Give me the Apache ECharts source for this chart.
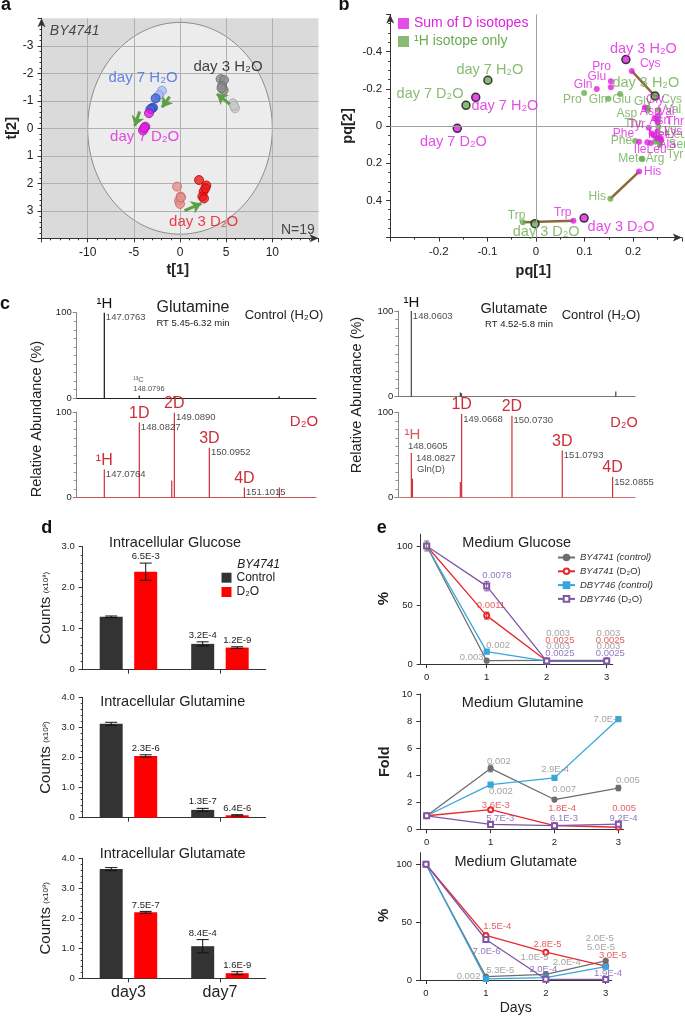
<!DOCTYPE html>
<html><head><meta charset="utf-8">
<script src="https://cdn.jsdelivr.net/npm/echarts@6/dist/echarts.min.js"></script>
<style>html,body{margin:0;padding:0;background:#fff}#c{width:685px;height:1018px}</style>
</head><body><div id="c"></div>
<script>
const FONT = '"Liberation Sans", Arial, Helvetica, sans-serif';

// ================= DATA =================
// Panel a: PCA scores (t[1], t[2])
const aDay7H2OFaint = [[-1.95,-1.37],[-2.27,-1.21]];
const aDay7H2O = [[-2.64,-1.09],[-2.92,-0.75],[-3.05,-0.73],[-3.21,-0.69]];
const aDay7D2O = [[-3.36,-0.55],[-3.75,-0.06],[-4.0,0.08],[-3.88,-0.01]];
const aDay3H2O = [[4.4,-1.79],[4.77,-1.76],[4.55,-1.54],[4.73,-1.39],[4.5,-1.46]];
const aDay3H2OFaint = [[5.74,-0.91],[5.96,-0.73],[5.85,-0.82]];
const aDay3D2OFaint = [[-0.32,2.12],[0.07,2.48],[-0.1,2.63],[0.0,2.75],[0.1,2.52]];
const aDay3D2O = [[2.06,1.88],[2.85,2.08],[2.56,2.3],[2.42,2.48],[2.6,2.55],[2.75,2.18]];
const aEllipse = [0, 0, 10, 3.85];            // centre t1, t2, half-axes
const aArrows = [[-1.12,-1.15,-1.95,-0.76],[-4.37,-0.61,-4.91,-0.08],[5.38,-0.88,4.0,-1.25],[0.5,2.99,2.31,2.73]];
const aLabels = [[-4.0,-1.85,'day 7 H₂O'],[5.2,-2.24,'day 3 H₂O'],[-3.83,0.3,'day 7 D₂O'],[2.56,3.39,'day 3 D₂O']];

// Panel b: scores & loadings (pq[1], pq[2])
const bScoreNames = ['day 3 H₂O','day 3 D₂O','day 7 H₂O','day 7 D₂O'];
const bScoreD = [[0.185,-0.357],[0.099,0.495],[-0.124,-0.154],[-0.162,0.0125]];
const bScoreH = [[0.245,-0.161],[-0.002,0.525],[-0.099,-0.246],[-0.144,-0.111]];
const bScoreLabD = [[0.221,-0.412],[0.175,0.541],[-0.064,-0.108],[-0.17,0.084]];
const bScoreLabH = [[0.226,-0.229],[0.021,0.568],[-0.095,-0.301],[-0.218,-0.17]];
const bAminoD = ['Cys','Pro','Glu','Gln','His','Trp','Phe','Ile','Leu','Gly','Asp','Val','Thr','Tyr','Lys','Met','Ala','Ser','Asn','Arg'];
const bLoadD = [[0.197,-0.296],[0.154,-0.241],[0.154,-0.208],[0.125,-0.199],[0.212,0.245],[0.077,0.509],[0.212,0.085],[0.229,0.088],[0.236,0.092],[0.224,-0.1],[0.245,-0.04],[0.252,-0.055],[0.25,-0.02],[0.232,0.01],[0.25,0.03],[0.248,0.066],[0.255,0.06],[0.242,0.05],[0.258,0.075],[0.238,0.04]];
const bAminoH = ['Pro','Gln','Glu','His','Trp','Phe','Met','Arg','Gly','Cys','Asp','Val','Thr','Tyr','Lys','Leu','Ile','Ala','Ser','Asn'];
const bLoadH = [[0.099,-0.177],[0.149,-0.147],[0.173,-0.172],[0.153,0.391],[-0.027,0.518],[0.204,0.08],[0.217,0.176],[0.219,0.178],[0.23,-0.098],[0.245,-0.16],[0.23,-0.085],[0.252,-0.086],[0.252,-0.032],[0.255,0.093],[0.252,0.004],[0.25,0.08],[0.245,0.085],[0.255,0.07],[0.25,0.06],[0.255,0.1]];
const bPairs = ['Cys','His','Trp'];
const bLabD = [[0.235,-0.333,'Cys'],[0.135,-0.319,'Pro'],[0.125,-0.265,'Glu'],[0.097,-0.22,'Gln'],[0.24,0.245,'His'],[0.055,0.466,'Trp'],[0.18,0.043,'Phe'],[0.235,0.129,'IleLeu'],[0.235,-0.077,'Asp'],[0.245,-0.14,'Gly'],[0.286,-0.023,'Thr'],[0.207,-0.005,'Tyr'],[0.282,0.03,'Lys'],[0.251,0.048,'Met'],[0.268,-0.075,'Val'],[0.255,-0.03,'Asn'],[0.27,0.1,'Ala']];
const bLabH = [[0.075,-0.143,'Pro'],[0.128,-0.143,'Gln'],[0.176,-0.143,'Glu'],[0.126,0.38,'His'],[-0.04,0.484,'Trp'],[0.176,0.081,'Phe'],[0.19,0.174,'Met'],[0.245,0.177,'Arg'],[0.22,-0.13,'Gly'],[0.279,-0.14,'Cys'],[0.187,-0.068,'Asp'],[0.282,-0.086,'Val'],[0.2,-0.014,'Thr'],[0.286,0.152,'Tyr'],[0.292,0.1,'Ser'],[0.29,0.048,'Leu'],[0.27,0.02,'Lys']];

// Panel c: mass spectra (m/z, relative abundance %)
const cGlnCtrlMz = [147.0763, 148.0796, 149.08, 152.10];
const cGlnCtrlAb = [100, 3, 2, 2];
const cGlnCtrlIso = ['¹H','','',''];
const cGlnCtrlTxt = ['147.0763','','',''];
const cGlnD2OMz = [147.0764, 148.0827, 149.015, 149.0890, 150.0952, 151.1015, 152.11];
const cGlnD2OAb = [33, 88, 20, 99.5, 58.5, 12, 12];
const cGlnD2OIso = ['¹H','1D','','2D','3D','4D',''];
const cGlnD2OTxt = ['147.0764','148.0827','','149.0890','150.0952','151.1015',''];
const cGluCtrlMz = [148.0603, 149.04, 149.064, 152.15];
const cGluCtrlAb = [100, 5, 4, 6];
const cGluCtrlIso = ['¹H','','',''];
const cGluCtrlTxt = ['148.0603','','',''];
const cGluD2OMz = [148.0605, 148.0827, 149.04, 149.0668, 150.0730, 151.0793, 152.0855];
const cGluD2OAb = [52, 22, 18, 98, 96, 55, 24];
const cGluD2OIso = ['','','','1D','2D','3D','4D'];
const cGluD2OTxt = ['','','','149.0668','150.0730','151.0793','152.0855'];
const cGlnCtrlNotes = [[147.909,21,'¹³C'],[147.909,10.2,'148.0796']];
const cGluD2ONotes = [[147.994,59.5,'148.0605'],[148.154,45.9,'148.0827'],[148.174,32.9,'Gln(D)']];

// Panel d: intracellular counts (x10^8)
const dDays = ['day3','day7'];
const dGlcCtrl = [1.29, 0.63], dGlcCtrlErr = [0.02, 0.05], dGlcCtrlP = ['', '3.2E-4'];
const dGlcD2O = [2.39, 0.54], dGlcD2OErr = [0.21, 0.02], dGlcD2OP = ['6.5E-3', '1.2E-9'];
const dGlnCtrl = [3.12, 0.26], dGlnCtrlErr = [0.05, 0.05], dGlnCtrlP = ['', '1.3E-7'];
const dGlnD2O = [2.05, 0.08], dGlnD2OErr = [0.04, 0.02], dGlnD2OP = ['2.3E-6', '6.4E-6'];
const dGluCtrl = [3.64, 1.07], dGluCtrlErr = [0.05, 0.22], dGluCtrlP = ['', '8.4E-4'];
const dGluD2O = [2.2, 0.17], dGluD2OErr = [0.03, 0.05], dGluD2OP = ['7.5E-7', '1.6E-9'];

// Panel e: medium time courses
const eDays = [0, 1, 2, 3];
const eNames = ['BY4741 (control)','BY4741 (D₂O)','DBY746 (control)','DBY746 (D₂O)'];
const eGlcBYc = [100, 2.8, 3, 3], eGlcBYd = [100, 41, 2.5, 2.5], eGlcDBc = [100, 10.5, 2.5, 2.5], eGlcDBd = [100, 66, 2.5, 2.5];
const eGlnBYc = [1, 4.5, 2.2, 3.05], eGlnBYd = [1, 1.45, 0.28, 0.15], eGlnDBc = [1, 3.3, 3.8, 8.15], eGlnDBd = [1, 0.36, 0.27, 0.38];
const eGluBYc = [100, 2.9, 4.9, 16.6], eGluBYd = [100, 38.5, 24, 12], eGluDBc = [100, 0.9, 2, 11.5], eGluDBd = [100, 35, 0.6, 0.5];
const eGlcErr = [[0,100,4.2,0],[1,66,4,3],[1,41,3,1]];
const eGlnErr = [[1,4.5,0.25,0],[2,2.2,0.15,0],[3,3.05,0.2,0],[3,8.15,0.15,2]];
const eGlcP = [[1.17,75.4,'0.0078',3],[1.07,50,'0.0011',1],[1.19,16.1,'0.002',0],[0.75,6,'0.003',0],
  [2.19,26,'0.003',0],[2.22,20.3,'0.0025',1],[2.19,14.7,'0.003',0],[2.22,9,'0.0025',3],
  [3.03,26,'0.003',0],[3.06,20.3,'0.0025',1],[3.03,14.7,'0.003',0],[3.06,9,'0.0025',3]];
const eGlnP = [[1.13,5.0,'0.002',0],[1.16,2.79,'0.002',0],[2.01,4.44,'2.9E-4',0],[2.15,2.96,'0.007',0],[3.15,3.65,'0.005',0],[2.83,8.15,'7.0E-4',0],
  [1.08,1.8,'3.6E-3',1],[2.12,1.55,'1.8E-4',1],[3.09,1.55,'0.005',1],[1.15,0.81,'5.7E-3',3],[2.15,0.81,'6.1E-3',3],[3.08,0.81,'9.2E-4',3]];
const eGluP = [[1.19,46.5,'1.5E-4',1],[2.03,31,'2.8E-5',1],[3.12,21.3,'3.0E-5',1],[2.9,35.9,'2.0E-5',0],[2.92,27.9,'5.0E-5',0],[1.01,25,'7.0E-6',3],
  [1.81,19.5,'1.0E-5',0],[2.35,14.9,'2.0E-4',0],[1.24,8,'5.3E-5',0],[1.96,9.2,'2.0E-4',3],[3.04,5.7,'1.9E-4',3],[0.71,3.4,'0.002',0]];

// ================= STYLE =================
const MAG = '#e01fe0', GRN = '#6aab4f', BROWN = '#8b6a3c', CRED = '#cc2f3a';
const eColors = ['#6e6e6e','#e8282d','#36a6de','#7f55a8'];
const ePColors = ['#8c8c8c','#e0353a','#36a6de','#7755b0'];
const eSymbols = ['circle','emptyCircle','rect','emptyRect'];

function merge(a, b){ const o = Object.assign({}, a); for (const k in b){ const v=b[k]; if (v && typeof v==='object' && !Array.isArray(v) && o[k] && typeof o[k]==='object' && !Array.isArray(o[k])) o[k]=merge(o[k],v); else o[k]=v; } return o; }

const grid = [
  {left:41.5, top:18.3, width:277, height:220},
  {left:390.2, top:14.4, width:291.6, height:223.2},
  {left:76.7, top:312.7, width:239.3, height:85.3},
  {left:76.7, top:412.3, width:239.3, height:85.4},
  {left:398.3, top:311, width:236.7, height:85.7},
  {left:398.3, top:412.3, width:236.7, height:85},
  {left:82.7, top:546.7, width:183, height:123},
  {left:82.7, top:697.3, width:183, height:120.4},
  {left:82.7, top:858.3, width:183, height:120},
  {left:420.7, top:534.2, width:192, height:129.8},
  {left:420.3, top:694, width:203.2, height:135.3},
  {left:420, top:852.7, width:191.7, height:127.3}
];

const VA = {type:'value', axisLine:{show:true, onZero:false, lineStyle:{color:'#333', width:1}},
  axisTick:{show:true, length:4, lineStyle:{color:'#333'}}, axisLabel:{show:true, color:'#222', fontFamily:FONT, fontSize:10},
  splitLine:{show:false}};
const noLab = {axisLabel:{show:false}, axisTick:{show:false}};

const xAxis = [
  merge(VA, {gridIndex:0, min:-15, max:15, interval:5, axisLine:{symbol:['none','arrow'], symbolSize:[6,9]},
    minorTick:{show:true, splitNumber:5, length:2}, axisLabel:{fontSize:12, showMinLabel:false, showMaxLabel:false},
    splitLine:{show:true, showMinLine:false, showMaxLine:false, lineStyle:{color:'#b0b0b0'}}}),
  merge(VA, {gridIndex:1, min:-0.3, max:0.3, interval:0.1, axisLine:{symbol:['none','arrow'], symbolSize:[6,9]},
    minorTick:{show:true, splitNumber:2, length:2}, axisLabel:{fontSize:11.5, showMinLabel:false, showMaxLabel:false}}),
  merge(VA, merge(noLab, {gridIndex:2, min:146.283, max:153.16, axisLine:{lineStyle:{color:'#222'}}})),
  merge(VA, merge(noLab, {gridIndex:3, min:146.283, max:153.16, axisLine:{lineStyle:{color:'#c9545e'}}})),
  merge(VA, merge(noLab, {gridIndex:4, min:147.80, max:152.534, axisLine:{lineStyle:{color:'#777'}}})),
  merge(VA, merge(noLab, {gridIndex:5, min:147.80, max:152.534, axisLine:{lineStyle:{color:'#d0727a'}}})),
];
[6,7,8].forEach(g => xAxis.push({type:'category', gridIndex:g, data:dDays,
  axisLine:{show:true, onZero:false, lineStyle:{color:'#333'}}, axisTick:{show:true, alignWithLabel:true, length:4, lineStyle:{color:'#333'}},
  axisLabel:{show:g===8, fontSize:16, color:'#222', fontFamily:FONT, margin:6}}));
[[9,3.1],[10,3.08],[11,3.1]].forEach(([g,mx]) => xAxis.push(merge(VA, {gridIndex:g, min:-0.1, max:mx,
  axisTick:{customValues:[0,1,2,3]}, axisLabel:{customValues:[0,1,2,3], fontSize:9.5}})));

const yAxis = [
  merge(VA, {gridIndex:0, min:-4, max:4, interval:1, inverse:true, axisLine:{symbol:['none','arrow'], symbolSize:[6,9]},
    minorTick:{show:true, splitNumber:5, length:2}, axisLabel:{fontSize:12, showMinLabel:false, showMaxLabel:false},
    splitLine:{show:true, showMinLine:false, showMaxLine:false, lineStyle:{color:'#b0b0b0'}}}),
  merge(VA, {gridIndex:1, min:-0.6, max:0.6, interval:0.2, inverse:true, axisLine:{symbol:['none','arrow'], symbolSize:[6,9]},
    minorTick:{show:true, splitNumber:4, length:2}, axisLabel:{fontSize:11.5, showMinLabel:false, showMaxLabel:false}})
];
[2,3,4,5].forEach(g => yAxis.push(merge(VA, {gridIndex:g, min:0, max:100, interval:100,
  axisLine:{lineStyle:{color:'#888'}}, axisTick:{lineStyle:{color:'#888'}}, minorTick:{show:true, splitNumber:10, length:3, lineStyle:{color:'#999'}},
  axisLabel:{fontSize:9.5, margin:5}})));
[[6,3],[7,4],[8,4]].forEach(([g,mx]) => yAxis.push(merge(VA, {gridIndex:g, min:0, max:mx, interval:1,
  minorTick:{show:true, splitNumber:5, length:2}, axisLabel:{fontSize:9.5, formatter:v => v===0 ? '0' : v.toFixed(1)}})));
yAxis.push(merge(VA, {gridIndex:9, min:0, max:110, axisTick:{customValues:[0,50,100]}, axisLabel:{customValues:[0,50,100], fontSize:9.5}}));
yAxis.push(merge(VA, {gridIndex:10, min:0, max:10, interval:2, axisLabel:{fontSize:9.5}}));
yAxis.push(merge(VA, {gridIndex:11, min:0, max:110, axisTick:{customValues:[0,50,100]}, axisLabel:{customValues:[0,50,100], fontSize:9.5}}));

// ================= SERIES =================
const series = [];
function ann(g, items, lab, colors){
  return {type:'scatter', xAxisIndex:g, yAxisIndex:g, symbolSize:0.1, clip:false, silent:true, z:6,
    itemStyle:{color:'rgba(0,0,0,0)'},
    data: items.map(it => { const d = {value:[it[0], it[1]], label:{formatter: it[2]}};
      if (it.length > 3 && colors) d.label.color = colors[it[3]]; return d; }),
    label: merge({show:true, position:'inside', fontFamily:FONT, fontSize:12, color:'#222'}, lab || {})};
}

// --- a ---
series.push({type:'custom', xAxisIndex:0, yAxisIndex:0, z:-1, silent:true, clip:false,
  data:[aEllipse],
  renderItem(params, api){
    const c = api.coord([api.value(0), api.value(1)]);
    const s = api.size([api.value(2), api.value(3)]);
    const cs = params.coordSys;
    const pts = [];
    for (let k = 0; k <= 180; k++){ const t = k/180*Math.PI*2; pts.push([c[0]+s[0]*Math.cos(t), c[1]+s[1]*Math.sin(t)]); }
    return {type:'group', children:[
      {type:'rect', shape:{x:cs.x, y:cs.y, width:cs.width, height:cs.height}, style:{fill:'#dadada'}},
      {type:'polygon', shape:{points:pts}, style:{fill:'#ececec', stroke:'#8a8a8a', lineWidth:1}}]};
  }});
function aSc(data, fill, stroke){ return {type:'scatter', xAxisIndex:0, yAxisIndex:0, data, symbolSize:9, silent:true, z:3,
  itemStyle:{color:fill, borderColor:stroke, borderWidth:1}}; }
series.push(aSc(aDay7H2OFaint, '#a9bcf2', '#7d95dc'));
series.push(aSc(aDay7H2O, '#3d63de', '#2846a8'));
series.push(aSc(aDay7D2O, '#e41fe4', '#9c1294'));
series.push(aSc(aDay3H2O, '#8e8e8e', '#666'));
series.push(aSc(aDay3H2OFaint, '#c9c9c9', '#a5a5a5'));
series.push(aSc(aDay3D2OFaint, '#e39191', '#c26464'));
series.push(aSc(aDay3D2O, '#ee1a1a', '#b80000'));
series.push({type:'scatter', xAxisIndex:0, yAxisIndex:0, data:[[0,0]], symbolSize:0.1, itemStyle:{color:'rgba(0,0,0,0)'}, silent:true,
  markLine:{silent:true, animation:false, symbol:['none','arrow'], symbolSize:[10,10], label:{show:false},
    lineStyle:{color:'#5c9f47', width:3, type:'solid'},
    data: aArrows.map(a => [{coord:[a[0],a[1]]},{coord:[a[2],a[3]]}])}});
series.push(ann(0, aLabels.map((l,i)=>[l[0],l[1],l[2],i]), {fontSize:15}, ['#4169e1','#111','#e020e0','#e8141c']));
series.push(ann(0, [[-14.1,-3.55,'BY4741']], {fontSize:14, fontStyle:'italic', align:'left', color:'#222'}));
series.push(ann(0, [[14.6,3.7,'N=19']], {fontSize:14, align:'right', color:'#222'}));

// --- b ---
series.push({type:'scatter', xAxisIndex:1, yAxisIndex:1, data:[[0,0]], symbolSize:0.1, itemStyle:{color:'rgba(0,0,0,0)'}, silent:true, z:1,
  markLine:{silent:true, animation:false, symbol:['none','none'], label:{show:false}, lineStyle:{color:'#a0a0a0', width:1, type:'solid'},
    data:[{xAxis:0},{yAxis:0}]}});
bPairs.forEach(n => series.push({type:'line', xAxisIndex:1, yAxisIndex:1, silent:true, z:2, symbol:'none',
  lineStyle:{color:BROWN, width:2.5}, data:[bLoadD[bAminoD.indexOf(n)], bLoadH[bAminoH.indexOf(n)]]}));
series.push({type:'scatter', name:'¹H isotope only', xAxisIndex:1, yAxisIndex:1, data:bLoadH, symbolSize:6, silent:true, z:3, itemStyle:{color:GRN}});
series.push({type:'scatter', name:'Sum of D isotopes', xAxisIndex:1, yAxisIndex:1, data:bLoadD, symbolSize:6, silent:true, z:3, itemStyle:{color:MAG}});
series.push({type:'scatter', xAxisIndex:1, yAxisIndex:1, data:bScoreH, symbolSize:8, silent:true, z:4, itemStyle:{color:GRN, borderColor:'#111', borderWidth:1.5}});
series.push({type:'scatter', xAxisIndex:1, yAxisIndex:1, data:bScoreD, symbolSize:8, silent:true, z:4, itemStyle:{color:MAG, borderColor:'#111', borderWidth:1.5}});
series.push(ann(1, bLabH, {fontSize:12, color:GRN}));
series.push(ann(1, bLabD, {fontSize:12, color:MAG}));
series.push(ann(1, bScoreLabH.map((p,i)=>[p[0],p[1],bScoreNames[i]]), {fontSize:14.5, color:GRN}));
series.push(ann(1, bScoreLabD.map((p,i)=>[p[0],p[1],bScoreNames[i]]), {fontSize:14.5, color:MAG}));

// --- c ---
function spectrum(g, mz, ab, iso, txt, color, isoColor, isoSize){
  series.push({type:'bar', xAxisIndex:g, yAxisIndex:g, barWidth:1.2, silent:true, z:3,
    data: mz.map((m,i)=>[m, ab[i]]), itemStyle:{color},
    label:{show:true, position:'top', distance:1, formatter:p => iso[p.dataIndex], color:isoColor, fontSize:isoSize, fontFamily:FONT}});
  series.push({type:'scatter', xAxisIndex:g, yAxisIndex:g, symbolSize:0.1, clip:false, silent:true, z:4,
    itemStyle:{color:'rgba(0,0,0,0)'}, data: mz.map((m,i)=>[m, ab[i]]),
    label:{show:true, position:'right', distance:1.5, offset:[0,5], formatter:p => txt[p.dataIndex], color:'#222', fontSize:9.5, fontFamily:FONT}});
}
spectrum(2, cGlnCtrlMz, cGlnCtrlAb, cGlnCtrlIso, cGlnCtrlTxt, '#111', '#111', 15);
spectrum(3, cGlnD2OMz, cGlnD2OAb, cGlnD2OIso, cGlnD2OTxt, CRED, CRED, 16);
spectrum(4, cGluCtrlMz, cGluCtrlAb, cGluCtrlIso, cGluCtrlTxt, '#444', '#111', 15);
spectrum(5, cGluD2OMz, cGluD2OAb, cGluD2OIso, cGluD2OTxt, CRED, CRED, 16);
series.push(ann(2, cGlnCtrlNotes, {fontSize:7.5, align:'left'}));
series.push(ann(5, cGluD2ONotes, {fontSize:9.5, align:'left'}));
series.push(ann(5, [[148.08,73.3,'¹H']], {fontSize:15, color:CRED}));

// --- d ---
function barErr(g, vals, errs, ps, offset){
  return {type:'custom', xAxisIndex:g, yAxisIndex:g, silent:true, z:5, clip:false,
    data: vals.map((v,i)=>[i, v, errs[i]]),
    renderItem(params, api){
      const i = api.value(0), v = api.value(1), e = api.value(2);
      const hi = api.coord([i, v+e]), lo = api.coord([i, v-e]);
      const x = hi[0] + offset, st = {stroke:'#111', lineWidth:1};
      const ch = [
        {type:'line', shape:{x1:x, y1:hi[1], x2:x, y2:lo[1]}, style:st},
        {type:'line', shape:{x1:x-6, y1:hi[1], x2:x+6, y2:hi[1]}, style:st},
        {type:'line', shape:{x1:x-6, y1:lo[1], x2:x+6, y2:lo[1]}, style:st}];
      const t = ps[params.dataIndex];
      if (t) ch.push({type:'text', x:x, y:hi[1]-1.5, style:{text:t, fontFamily:FONT, fontSize:9.5, fill:'#222', align:'center', verticalAlign:'bottom'}});
      return {type:'group', children:ch};
    }};
}
[[6,dGlcCtrl,dGlcCtrlErr,dGlcCtrlP,dGlcD2O,dGlcD2OErr,dGlcD2OP],
 [7,dGlnCtrl,dGlnCtrlErr,dGlnCtrlP,dGlnD2O,dGlnD2OErr,dGlnD2OP],
 [8,dGluCtrl,dGluCtrlErr,dGluCtrlP,dGluD2O,dGluD2OErr,dGluD2OP]].forEach(r => {
  const g = r[0];
  series.push({type:'bar', name:'Control', xAxisIndex:g, yAxisIndex:g, data:r[1], barWidth:23, barGap:'50%', silent:true, itemStyle:{color:'#333333'}});
  series.push({type:'bar', name:'D₂O', xAxisIndex:g, yAxisIndex:g, data:r[4], barWidth:23, barGap:'50%', silent:true, itemStyle:{color:'#ff0000'}});
  series.push(barErr(g, r[1], r[2], r[3], -17.25));
  series.push(barErr(g, r[4], r[5], r[6], 17.25));
});

// --- e ---
function eChart(g, arrays, errs, ps){
  arrays.forEach((arr,k) => series.push({type:'line', name:eNames[k], xAxisIndex:g, yAxisIndex:g, silent:true, z:3,
    data: eDays.map((d,i)=>[d, arr[i]]), symbol:eSymbols[k], symbolSize:5, showSymbol:true,
    lineStyle:{color:eColors[k], width:1.3}, itemStyle:{color:eColors[k], borderColor:eColors[k], borderWidth:1.2}}));
  if (errs) series.push({type:'custom', xAxisIndex:g, yAxisIndex:g, silent:true, z:4, clip:false, data:errs.map(e=>e.slice(0,3)),
    renderItem(params, api){
      const x0 = api.value(0), v = api.value(1), e = api.value(2);
      const hi = api.coord([x0, v+e]), lo = api.coord([x0, v-e]);
      const st = {stroke: eColors[errs[params.dataIndex][3]], lineWidth:1};
      return {type:'group', children:[
        {type:'line', shape:{x1:hi[0], y1:hi[1], x2:lo[0], y2:lo[1]}, style:st},
        {type:'line', shape:{x1:hi[0]-2.5, y1:hi[1], x2:hi[0]+2.5, y2:hi[1]}, style:st},
        {type:'line', shape:{x1:lo[0]-2.5, y1:lo[1], x2:lo[0]+2.5, y2:lo[1]}, style:st}]};
    }});
  series.push(ann(g, ps, {fontSize:9.5}, ePColors));
}
eChart(9, [eGlcBYc, eGlcBYd, eGlcDBc, eGlcDBd], eGlcErr, eGlcP);
eChart(10, [eGlnBYc, eGlnBYd, eGlnDBc, eGlnDBd], eGlnErr, eGlnP);
eChart(11, [eGluBYc, eGluBYd, eGluDBc, eGluDBd], null, eGluP);

// ================= TEXT =================
function T(x, y, text, o){ o = o || {}; const rot = o.rotation || 0; delete o.rotation;
  return {type:'text', x, y, rotation:rot, silent:true, z:10,
    style: Object.assign({text, fontFamily:FONT, fontSize:14, fill:'#222', align:'center', verticalAlign:'middle'}, o)}; }
const R = Math.PI/2;
const graphic = [
  T(6,5.5,'a',{fontSize:18,fontWeight:'bold',fill:'#111'}), T(344,5.5,'b',{fontSize:18,fontWeight:'bold',fill:'#111'}),
  T(5,304.5,'c',{fontSize:18,fontWeight:'bold',fill:'#111'}), T(46.7,527.8,'d',{fontSize:18,fontWeight:'bold',fill:'#111'}),
  T(381.7,527.8,'e',{fontSize:18,fontWeight:'bold',fill:'#111'}),
  T(177.7,270,'t[1]',{fontSize:14.5,fontWeight:'bold'}), T(12,128.3,'t[2]',{fontSize:14.5,fontWeight:'bold',rotation:R}),
  T(533.3,270.7,'pq[1]',{fontSize:14.5,fontWeight:'bold'}), T(348,126,'pq[2]',{fontSize:14.5,fontWeight:'bold',rotation:R}),
  T(193,308,'Glutamine',{fontSize:16}), T(193,323.3,'RT 5.45-6.32 min',{fontSize:9.5}), T(284,315,'Control (H₂O)',{fontSize:13}),
  T(304,422.3,'D₂O',{fontSize:15,fill:CRED}),
  T(514,309.3,'Glutamate',{fontSize:14.5}), T(519,324,'RT 4.52-5.8 min',{fontSize:9.5}), T(601,315,'Control (H₂O)',{fontSize:13}),
  T(624,423.3,'D₂O',{fontSize:14.5,fill:CRED}),
  T(36.7,419,'Relative Abundance (%)',{fontSize:14.5,rotation:R}), T(356.7,395,'Relative Abundance (%)',{fontSize:14.5,rotation:R}),
  T(175,542.7,'Intracellular Glucose',{fontSize:14.5}), T(172.7,701.7,'Intracellular Glutamine',{fontSize:14.5}),
  T(172.7,854.3,'Intracellular Glutamate',{fontSize:14.5}),
  T(237.3,565,'BY4741',{fontSize:12,fontStyle:'italic',align:'left'}),
  T(516.7,542.7,'Medium Glucose',{fontSize:14.5}), T(522.7,702.7,'Medium Glutamine',{fontSize:14.5}),
  T(515.7,861.7,'Medium Glutamate',{fontSize:14.5}),
  T(384.3,598.5,'%',{fontSize:15,fontWeight:'bold',rotation:R}), T(385,761.7,'Fold',{fontSize:14.5,fontWeight:'bold',rotation:R}),
  T(384.3,915.3,'%',{fontSize:15,fontWeight:'bold',rotation:R}), T(515.7,1008.3,'Days',{fontSize:14})
];
[608,757.5,918.3].forEach(y => graphic.push({type:'text', x:46, y, rotation:R, silent:true, z:10,
  style:{text:'{a|Counts} {b|(x10⁸)}', align:'center', verticalAlign:'middle',
    rich:{a:{fontSize:15, fontFamily:FONT, fill:'#222'}, b:{fontSize:8, fontFamily:FONT, fill:'#222'}}}}));

// ================= LEGENDS =================
const legend = [
  {data:[{name:'Sum of D isotopes', textStyle:{color:MAG}}, {name:'¹H isotope only', textStyle:{color:GRN}}],
   left:398, top:16.5, orient:'vertical', icon:'rect', itemWidth:11, itemHeight:11, itemGap:4, padding:0, selectedMode:false,
   textStyle:{fontSize:14, lineHeight:11, fontFamily:FONT}},
  {data:['Control','D₂O'], left:221.5, top:571.7, orient:'vertical', icon:'rect', itemWidth:10, itemHeight:10, itemGap:2.3, padding:0,
   selectedMode:false, textStyle:{fontSize:12, lineHeight:10, color:'#222', fontFamily:FONT}},
  {data:eNames, left:557, top:552.5, orient:'vertical', itemWidth:17, itemHeight:7, itemGap:3.8, padding:0, selectedMode:false,
   textStyle:{fontSize:9.5, lineHeight:7, color:'#333', fontFamily:FONT,
     rich:{i:{fontStyle:'italic', fontSize:9.5, fontFamily:FONT, color:'#333', lineHeight:7}, n:{fontSize:9.5, fontFamily:FONT, color:'#333', lineHeight:7}}},
   formatter: n => { const s = n.indexOf(' '); const a = n.slice(0,s), b = n.slice(s+1);
     return '{i|' + a + '} {' + (b.indexOf('D₂O') >= 0 ? 'n' : 'i') + '|' + b + '}'; }}
];

const chart = echarts.init(document.getElementById('c'), null, {renderer:'canvas', width:685, height:1018});
chart.setOption({animation:false, backgroundColor:'#fff', textStyle:{fontFamily:FONT},
  grid, xAxis, yAxis, series, legend, graphic});
</script>
</body></html>
